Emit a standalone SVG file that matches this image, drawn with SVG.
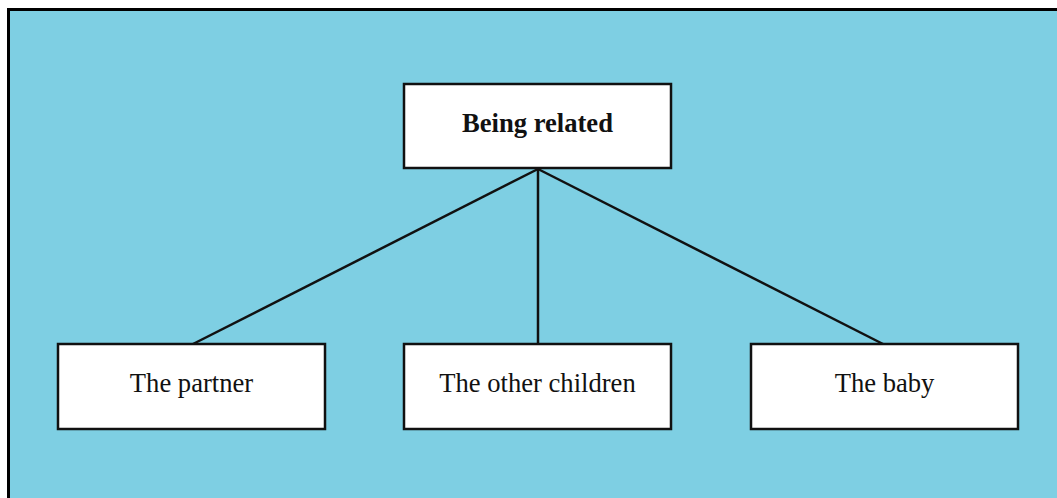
<svg xmlns="http://www.w3.org/2000/svg" width="1057" height="498" viewBox="0 0 1057 498">
  <style>
    .box { fill: #ffffff; stroke: #111111; stroke-width: 2.5; }
    .label { font-family: "Liberation Serif", "Times New Roman", serif; font-size: 26.6px; fill: #111111; text-anchor: middle; }
    .bold { font-weight: bold; }
    .link { stroke: #111111; stroke-width: 2.5; fill: none; }
  </style>
  <!-- panel background with heavy top/left frame -->
  <rect x="0" y="0" width="1057" height="498" fill="#ffffff"/>
  <rect x="9" y="10" width="1048" height="488" fill="#7ecfe3"/>
  <path d="M8.5 498 V9.5 H1057" stroke="#000000" stroke-width="3" fill="none"/>

  <g id="connectors">
    <line class="link" x1="538" y1="169" x2="193" y2="344"/>
    <line class="link" x1="538" y1="169" x2="538" y2="344"/>
    <line class="link" x1="538" y1="169" x2="883" y2="344"/>
  </g>

  <g id="node-being-related">
    <rect class="box" x="404" y="84" width="267" height="84"/>
    <text class="label bold" x="537.5" y="132">Being related</text>
  </g>
  <g id="node-partner">
    <rect class="box" x="58" y="344" width="267" height="85"/>
    <text class="label" x="191.5" y="392">The partner</text>
  </g>
  <g id="node-other-children">
    <rect class="box" x="404" y="344" width="267" height="85"/>
    <text class="label" x="537.5" y="392">The other children</text>
  </g>
  <g id="node-baby">
    <rect class="box" x="751" y="344" width="267" height="85"/>
    <text class="label" x="884.5" y="392">The baby</text>
  </g>
</svg>
